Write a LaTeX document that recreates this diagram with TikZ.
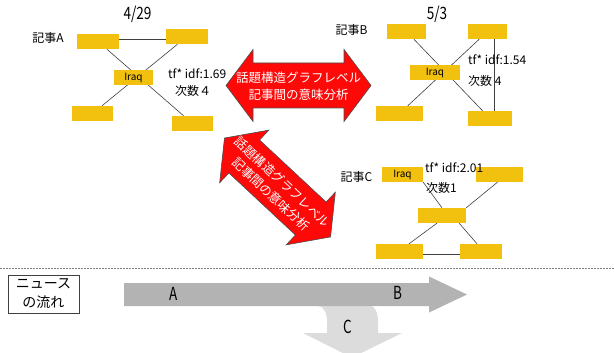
\documentclass[tikz,border=0pt]{standalone}
\usepackage{fontspec}
\setmainfont{Noto Sans CJK JP}
\usetikzlibrary{backgrounds,calc}
\definecolor{boxy}{HTML}{F2C00F}
\definecolor{linec}{HTML}{404040}
\definecolor{arrred}{HTML}{FF0808}
\definecolor{flowg}{HTML}{B3B3B3}
\definecolor{flowl}{HTML}{DCDCDC}
\definecolor{dotg}{HTML}{808080}
\begin{document}
\begin{tikzpicture}[x=1pt,y=-1pt,
  ybox/.style={fill=boxy, inner sep=0pt, minimum width=#1, minimum height=15pt, font=\fontsize{10}{12}\selectfont},
  conn/.style={draw=linec, line width=0.6pt},
  datel/.style={font=\fontsize{17}{17}\selectfont, xscale=0.8, transform shape, inner sep=0pt},
  kiji/.style={font=\fontsize{12}{14}\selectfont, inner sep=0pt},
  info/.style={font=\fontsize{12}{14}\selectfont, inner sep=0pt, anchor=west},
  lett/.style={font=\fontsize{18}{18}\selectfont, xscale=0.75, transform shape, inner sep=0pt},
  redarrow/.pic={
    \path[fill=arrred, draw=black!70, line width=0.6pt]
      (-72.5,0) -- (-45.5,-36) -- (-45.5,-22.5) -- (45.5,-22.5) -- (45.5,-36) -- (72.5,0)
      -- (45.5,36) -- (45.5,22.5) -- (-45.5,22.5) -- (-45.5,36) -- cycle;
    \node[text=white, align=center, font=\fontsize{12.5}{17}\selectfont, inner sep=0pt] (-t) at (0,1)
      {話題構造グラフレベル\\記事間の意味分析};
  }]
\useasboundingbox (0,0) rectangle (614,353);

% graph A
\node[ybox=42pt] (A1) at (98,41.5) {};
\node[ybox=42pt] (A2) at (187,36.5) {};
\node[ybox=39pt] (IA) at (133.5,77.5) {Iraq};
\node[ybox=41pt] (A3) at (92.5,113.5) {};
\node[ybox=41pt] (A4) at (192.5,123.5) {};
\node[datel] (dateA) at (137.5,14) {4/29};
\node[kiji] (kA) at (48,38) {記事A};
\node[info] (tA) at (168,74) {tf* idf:1.69};
\node[info] (dA) at (175,91) {次数４};

% graph B
\node[ybox=39pt] (B1) at (406.5,31.5) {};
\node[ybox=39pt] (B2) at (487.5,31.5) {};
\node[ybox=50pt] (IB) at (435,72.5) {Iraq};
\node[ybox=47pt] (B3) at (399.5,113.5) {};
\node[ybox=44pt] (B4) at (490,118.5) {};
\node[datel] (dateB) at (437,14) {5/3};
\node[kiji] (kB) at (351.5,30) {記事B};
\node[info] (tB) at (468,60) {tf* idf:1.54};
\node[info] (dB) at (468,81) {次数 4};

% graph C
\node[ybox=41pt] (C1) at (402.5,174.5) {Iraq};
\node[ybox=47pt] (C2) at (499.5,174.5) {};
\node[ybox=48pt] (C3) at (442,215.5) {};
\node[ybox=47pt] (C4) at (399.5,251.5) {};
\node[ybox=42pt] (C5) at (481,251.5) {};
\node[kiji] (kC) at (356.5,177) {記事C};
\node[info] (tC) at (425,168) {tf* idf:2.01};
\node[info] (dC) at (426,188) {次数1};

\begin{scope}[on background layer]
  \draw[conn] ([yshift=2.5pt]A1.east) -- ([yshift=-2.5pt]A2.west);
  \draw[conn] (A1) -- (A4);
  \draw[conn] (A2) -- (A3);
  \draw[conn] (B1) -- (B4);
  \draw[conn] (B2) -- (B3);
  \draw[conn] ([xshift=6.5pt]B2.south) -- ([xshift=4pt]B4.north);
  \draw[conn] (C1.south east) -- (C3.north);
  \draw[conn] ([xshift=-2pt]C2.south) -- (C3.north east);
  \draw[conn] ([xshift=-5pt]C3.south) -- ([xshift=9.5pt]C4.north);
  \draw[conn] ([xshift=-7pt]C3.south east) -- ([xshift=-4pt]C5.north);
  \draw[conn] ([yshift=-2.5pt]C4.east) -- ([yshift=-2.5pt]C5.west);
\end{scope}

% red arrows
\pic (rh) at (298.5,85.5) {redarrow};
\pic[rotate=-43, transform shape] (rd) at (277.5,187.5) {redarrow};

% separator
\coordinate (dl) at (0,268.5);
\coordinate (dr) at (614,268.5);
\draw[dotg, line width=0.6pt, dash pattern=on 0.6pt off 0.9pt] (dl) -- (dr);

% news flow
\node[draw=linec, line width=0.7pt, fill=white, minimum width=71pt, minimum height=38pt,
      align=center, inner sep=0pt, font=\fontsize{14}{19}\selectfont] (flow) at (43.5,294) {ニュース\\の流れ};
\fill[flowl] (318,300) -- (318,306) .. controls (325,307) and (327,314) .. (327,322) -- (327,333)
  -- (303,333) -- (352,357.5) -- (402,333) -- (378,333) -- (378,322)
  .. controls (378,312) and (375,307) .. (371,306) -- (371,300) -- cycle;
\fill[flowg] (124,283) -- (429,283) -- (429,276.5) -- (467,294.5) -- (429,312.5) -- (429,306) -- (124,306) -- cycle;
\node[lett] (la) at (174,294) {A};
\node[lett] (lb) at (398,293) {B};
\node[lett] (lc) at (348,327) {C};
\end{tikzpicture}
\end{document}
